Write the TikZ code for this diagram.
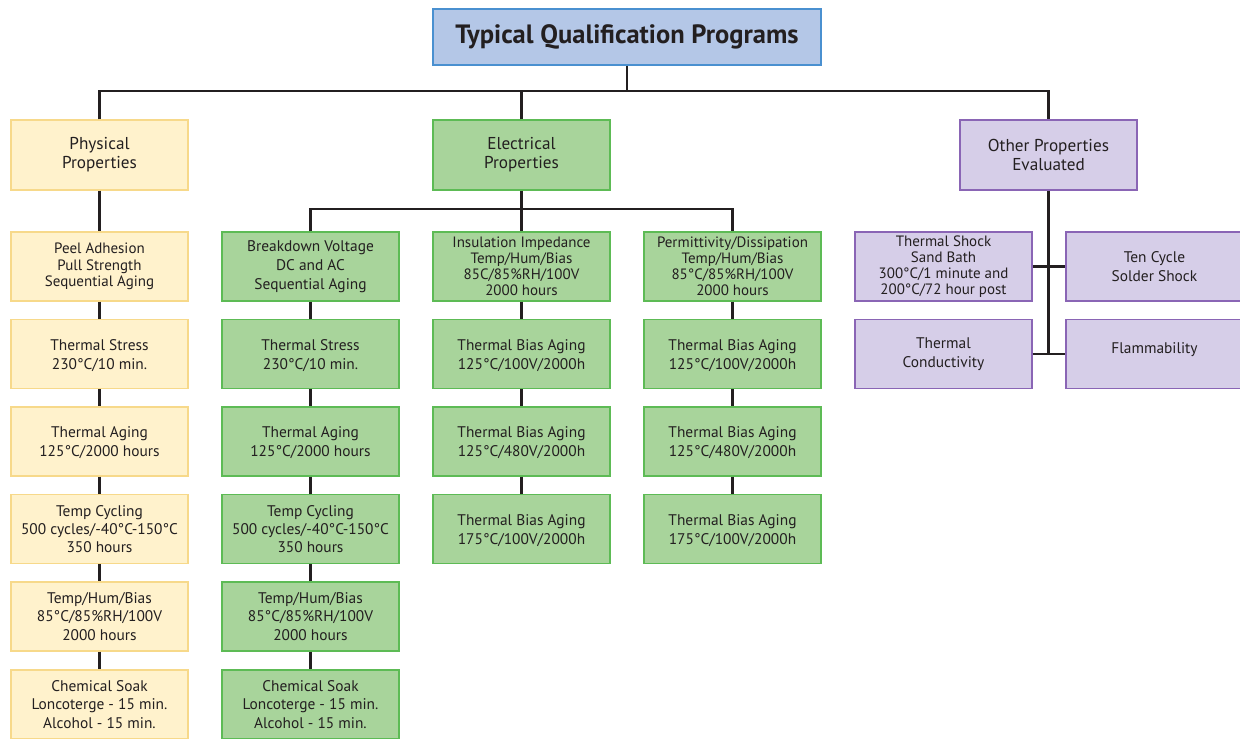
\documentclass[tikz,border=0pt]{standalone}
\usepackage{fontspec}
\setmainfont{PT Sans}
\definecolor{yfill}{HTML}{FFF2CC}
\definecolor{ydraw}{HTML}{F7D98A}
\definecolor{gfill}{HTML}{A8D49B}
\definecolor{gdraw}{HTML}{5DBB55}
\definecolor{pfill}{HTML}{D6CEE8}
\definecolor{pdraw}{HTML}{8A65B5}
\definecolor{bfill}{HTML}{B4C7E7}
\definecolor{bdraw}{HTML}{4A90D0}
\definecolor{txt}{HTML}{231F20}
\definecolor{lin}{HTML}{231F20}
\begin{document}
\begin{tikzpicture}[x=1pt,y=-1pt,
  box/.style={draw, line width=1.2pt, minimum width=177pt, minimum height=69pt, inner sep=0pt, align=center, text=txt, font=\fontsize{15.4}{19}\selectfont},
  phy/.style={box, fill=yfill, draw=ydraw},
  ele/.style={box, fill=gfill, draw=gdraw},
  oth/.style={box, fill=pfill, draw=pdraw},
  lvl/.style={font=\fontsize{17.2}{19}\selectfont},
  small/.style={font=\fontsize{15}{16}\selectfont},
  peel/.style={font=\fontsize{15}{16.5}\selectfont},
  mid/.style={font=\fontsize{15.4}{18.3}\selectfont},
  lower/.style={text height=30pt, text depth=0pt},
  conn/.style={draw=lin, line width=2.6pt, line join=miter}]
\useasboundingbox (0,0) rectangle (1240,739);
\fill[white] (0,0) rectangle (1240,739);

% title
\node[box, fill=bfill, draw=bdraw, minimum width=388pt, minimum height=56pt, font=\bfseries\fontsize{26.5}{30}\selectfont] (title) at (627,37) {Typical Qualification Programs};

% level 1
\node[phy, lvl, minimum height=70pt] (phys) at (99.5,155) {Physical\\Properties};
\node[ele, lvl, minimum height=70pt] (elec) at (521.5,155) {Electrical\\Properties};
\node[oth, lvl, minimum height=70pt] (other) at (1048.5,155) {Other Properties\\Evaluated};

% physical column
\node[phy, peel] (p1) at (99.5,266.5) {Peel Adhesion\\Pull Strength\\Sequential Aging};
\node[phy, lower] (p2) at (99.5,354) {Thermal Stress\\230°C/10 min.};
\node[phy, lower] (p3) at (99.5,441.5) {Thermal Aging\\125°C/2000 hours};
\node[phy, mid] (p4) at (99.5,529) {Temp Cycling\\500 cycles/-40°C-150°C\\350 hours};
\node[phy, mid] (p5) at (99.5,616.5) {Temp/Hum/Bias\\85°C/85\%RH/100V\\2000 hours};
\node[phy, mid] (p6) at (99.5,704.5) {Chemical Soak\\Loncoterge - 15 min.\\Alcohol - 15 min.};

% electrical column A
\node[ele] (a1) at (310.5,266.5) {Breakdown Voltage\\DC and AC\\Sequential Aging};
\node[ele, lower] (a2) at (310.5,354) {Thermal Stress\\230°C/10 min.};
\node[ele, lower] (a3) at (310.5,441.5) {Thermal Aging\\125°C/2000 hours};
\node[ele, mid] (a4) at (310.5,529) {Temp Cycling\\500 cycles/-40°C-150°C\\350 hours};
\node[ele, mid] (a5) at (310.5,616.5) {Temp/Hum/Bias\\85°C/85\%RH/100V\\2000 hours};
\node[ele, mid] (a6) at (310.5,704.5) {Chemical Soak\\Loncoterge - 15 min.\\Alcohol - 15 min.};

% electrical column B
\node[ele, small] (b1) at (521.5,266.5) {Insulation Impedance\\Temp/Hum/Bias\\85C/85\%RH/100V\\2000 hours};
\node[ele, lower] (b2) at (521.5,354) {Thermal Bias Aging\\125°C/100V/2000h};
\node[ele, lower] (b3) at (521.5,441.5) {Thermal Bias Aging\\125°C/480V/2000h};
\node[ele, lower] (b4) at (521.5,529) {Thermal Bias Aging\\175°C/100V/2000h};

% electrical column C
\node[ele, small] (c1) at (732.5,266.5) {Permittivity/Dissipation\\Temp/Hum/Bias\\85°C/85\%RH/100V\\2000 hours};
\node[ele, lower] (c2) at (732.5,354) {Thermal Bias Aging\\125°C/100V/2000h};
\node[ele, lower] (c3) at (732.5,441.5) {Thermal Bias Aging\\125°C/480V/2000h};
\node[ele, lower] (c4) at (732.5,529) {Thermal Bias Aging\\175°C/100V/2000h};

% other
\node[oth, small] (o1) at (943.5,266.5) {Thermal Shock\\Sand Bath\\300°C/1 minute and\\200°C/72 hour post};
\node[oth] (o2) at (1154.5,266.5) {Ten Cycle\\Solder Shock};
\node[oth] (o3) at (943.5,354) {Thermal\\Conductivity};
\node[oth] (o4) at (1154.5,354) {};
\node[text=txt, font=\fontsize{15.4}{19}\selectfont] (o4t) at (1154.5,350) {Flammability};

% connectors
\coordinate (bus) at (627,91);
\coordinate (ebus) at (521.5,209);
\draw[conn] (title.south) -- (bus);
\draw[conn] (phys.north) -- (phys.north |- bus) -- (other.north |- bus) -- (other.north);
\draw[conn] (elec.north) -- (elec.north |- bus);
\draw[conn] (phys) -- (p1);
\draw[conn] (p1) -- (p2); \draw[conn] (p2) -- (p3); \draw[conn] (p3) -- (p4); \draw[conn] (p4) -- (p5); \draw[conn] (p5) -- (p6);
\draw[conn] (elec.south) -- (b1.north);
\draw[conn] (a1.north) -- (a1.north |- ebus) -- (c1.north |- ebus) -- (c1.north);
\draw[conn] (a1) -- (a2); \draw[conn] (a2) -- (a3); \draw[conn] (a3) -- (a4); \draw[conn] (a4) -- (a5); \draw[conn] (a5) -- (a6);
\draw[conn] (b1) -- (b2); \draw[conn] (b2) -- (b3); \draw[conn] (b3) -- (b4);
\draw[conn] (c1) -- (c2); \draw[conn] (c2) -- (c3); \draw[conn] (c3) -- (c4);
\draw[conn] (other.south) -- (other.south |- o3.east);
\draw[conn] (o1.east) -- (o2.west);
\draw[conn] (o3.east) -- (o4.west);
\end{tikzpicture}
\end{document}
